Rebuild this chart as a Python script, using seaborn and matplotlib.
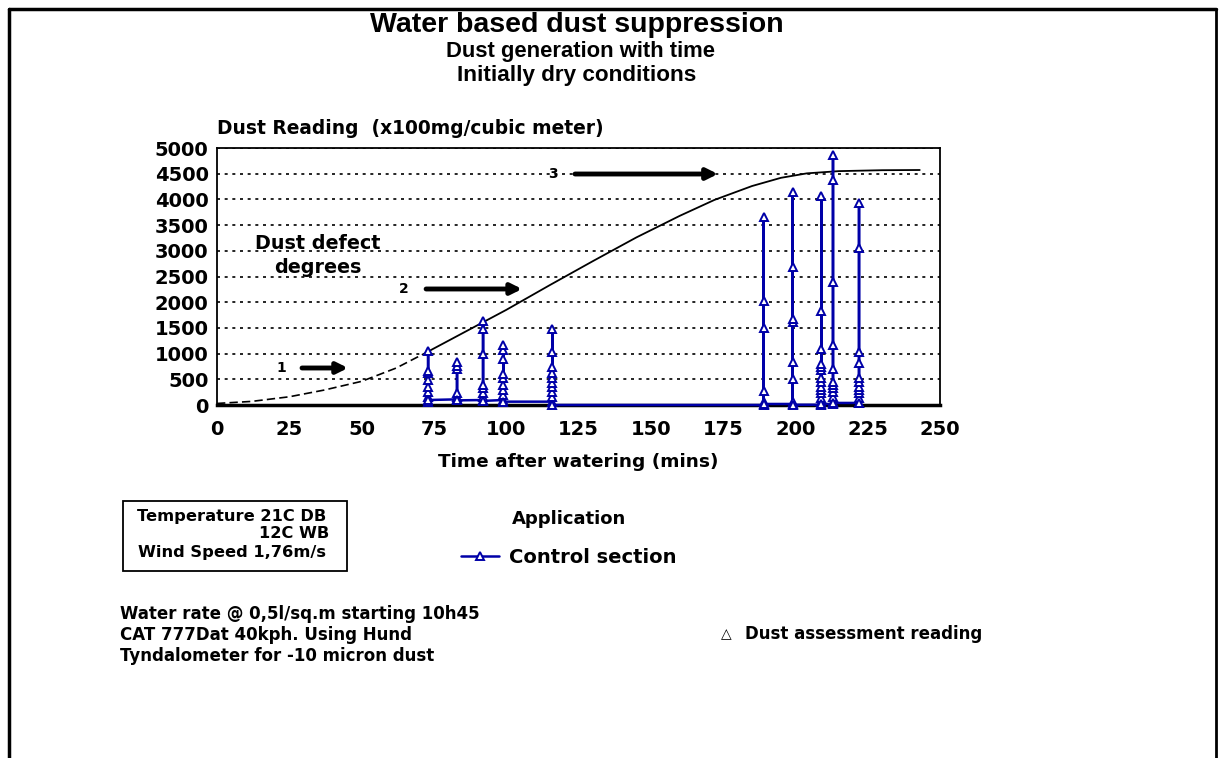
import matplotlib
matplotlib.use("Agg")
import matplotlib.pyplot as plt
from matplotlib.lines import Line2D
from matplotlib.patches import Rectangle
import seaborn as sns
import pandas as pd

# Dust readings (x100 mg/m^3) taken at each measuring time, in reading order
reading_times = [73, 83, 92, 99, 116, 189, 199, 209, 213, 222]
readings_073 = [65, 161, 258, 342, 484, 613, 664, 1050, 97]
readings_083 = [110, 161, 226, 710, 761, 839, 90]
readings_092 = [97, 161, 226, 322, 387, 1000, 1484, 1640, 80]
readings_099 = [97, 193, 290, 387, 516, 600, 903, 1064, 1161, 65]
readings_116 = [65, 161, 258, 342, 419, 516, 613, 742, 1032, 1470, 0]
readings_189 = [0, 65, 277, 1496, 2019, 3657, 20]
readings_199 = [20, 65, 497, 838, 1612, 1677, 2690, 4147, 5]
readings_209 = [5, 65, 129, 226, 290, 355, 452, 535, 677, 742, 793, 1096, 1838, 4063, 20]
readings_213 = [20, 65, 161, 258, 322, 387, 452, 710, 1161, 2387, 4373, 4857, 40]
readings_222 = [40, 129, 226, 290, 355, 452, 535, 819, 1026, 3051, 3922, 32]

# Dust defect development curve
curve_minutes = [0, 12, 25, 37, 50, 62, 73, 85, 100, 115, 130, 145, 160, 172, 185, 195, 204, 215, 230, 243]
curve_values = [30, 70, 160, 290, 460, 720, 1040, 1400, 1850, 2330, 2800, 3260, 3680, 3990, 4260, 4420, 4507, 4550, 4568, 4572]
dry_limit = 73  # dashed part of the curve ends here

# Degree markers: label, y level, arrow start and end (mins)
degree_labels = ["1", "2", "3"]
degree_levels = [720, 2257, 4494]
degree_label_x = [22.1, 64.7, 116.2]
degree_arrow_from = [29.4, 72.3, 123.8]
degree_arrow_to = [45.3, 105.5, 173.2]

x_ticks = list(range(0, 251, 25))
y_ticks = list(range(0, 5001, 500))

W, H = 1219, 758


def px(x, y):
    return x / W, 1 - y / H


sns.set_style("white")
plt.rcParams["font.family"] = ["DejaVu Sans"]
plt.rcParams["font.weight"] = "bold"
plt.rcParams["text.color"] = "black"
plt.rcParams["axes.labelcolor"] = "black"

all_series = [readings_073, readings_083, readings_092, readings_099, readings_116,
              readings_189, readings_199, readings_209, readings_213, readings_222]
rows = []
for t, vals in zip(reading_times, all_series):
    for v in vals:
        rows.append({"minutes": t, "reading": v})
df = pd.DataFrame(rows)

curve = pd.DataFrame({"minutes": curve_minutes, "value": curve_values})
dry = curve[curve.minutes <= dry_limit]
wet = curve[curve.minutes >= dry_limit]

fig = plt.figure(figsize=(W / 100, H / 100), dpi=100)
ax = fig.add_axes([217 / W, 1 - 405 / H, (940 - 217) / W, (405 - 148) / H])

blue = "#0000A8"
sns.lineplot(data=dry, x="minutes", y="value", ax=ax, color="black", lw=1.2,
             linestyle=(0, (5, 2.5)), sort=False, estimator=None)
sns.lineplot(data=wet, x="minutes", y="value", ax=ax, color="black", lw=1.3,
             sort=False, estimator=None)
sns.lineplot(data=df, x="minutes", y="reading", ax=ax, sort=False, estimator=None,
             color=blue, lw=1.8, marker="^", markersize=6.3, markerfacecolor="white",
             markeredgecolor=blue, markeredgewidth=1.4, clip_on=False,
             label="Control section", zorder=4)

ax.set_xlim(0, 250)
ax.set_ylim(0, 5000)
ax.set_xticks(x_ticks)
ax.set_yticks(y_ticks)
ax.tick_params(axis="x", direction="in", length=6, width=1.5, pad=11, labelsize=14, colors="black")
ax.tick_params(axis="y", direction="out", length=4, width=1.2, pad=2, labelsize=14, colors="black")
for lab in ax.get_xticklabels() + ax.get_yticklabels():
    lab.set_fontweight("bold")
ax.yaxis.grid(True, color="black", lw=1.2, linestyle=(0, (1.8, 2.8)))
ax.xaxis.grid(False)
for side in ["top", "right", "left"]:
    ax.spines[side].set_color("black")
    ax.spines[side].set_linewidth(1.3)
ax.spines["bottom"].set_color("black")
ax.spines["bottom"].set_linewidth(2.5)
ax.set_xlabel("Time after watering (mins)", fontsize=13.3, fontweight="bold", labelpad=10)
ax.set_ylabel("")

# Degree arrows
for lab, lvl, lx, a0, a1 in zip(degree_labels, degree_levels, degree_label_x,
                                degree_arrow_from, degree_arrow_to):
    ax.text(lx, lvl, lab, fontsize=10, fontweight="bold", ha="center", va="center")
    ax.annotate("", xy=(a1, lvl), xytext=(a0, lvl),
                arrowprops=dict(arrowstyle="-|>", lw=3.5, color="black", mutation_scale=16,
                                shrinkA=0, shrinkB=0))

ax.text(35, 2910, "Dust defect\ndegrees", fontsize=13.8, fontweight="bold",
        ha="center", va="center", linespacing=1.35)

leg = ax.legend(loc="upper left", bbox_to_anchor=px(443, 493), bbox_transform=fig.transFigure,
                frameon=False, title="Application", fontsize=14, title_fontsize=13,
                handlelength=2.0, handletextpad=0.5, labelspacing=0.4)
leg.get_title().set_fontweight("bold")
for t in leg.get_texts():
    t.set_fontweight("bold")
leg._legend_box.sep = 14

# Titles
fig.text(*px(577, 25), "Water based dust suppression", fontsize=20.5, fontweight="bold",
         ha="center", va="center", family="Liberation Sans")
fig.text(*px(581, 51), "Dust generation with time", fontsize=15.8, fontweight="bold",
         ha="center", va="center", family="Liberation Sans")
fig.text(*px(577, 75), "Initially dry conditions", fontsize=16.2, fontweight="bold",
         ha="center", va="center", family="Liberation Sans")
fig.text(*px(217, 129), "Dust Reading  (x100mg/cubic meter)", fontsize=13.4,
         fontweight="bold", ha="left", va="center")

# Conditions box
fig.add_artist(Rectangle(px(123, 571), 224 / W, 70 / H, transform=fig.transFigure,
                         facecolor="none", edgecolor="black", lw=1.3))
fig.text(*px(137, 517), "Temperature 21C DB", fontsize=11.7, fontweight="bold", ha="left", va="center")
fig.text(*px(329, 533), "12C WB", fontsize=11.7, fontweight="bold", ha="right", va="center")
fig.text(*px(138, 552), "Wind Speed 1,76m/s", fontsize=11.7, fontweight="bold", ha="left", va="center")

fig.text(*px(120, 605), "Water rate @ 0,5l/sq.m starting 10h45\nCAT 777Dat 40kph. Using Hund\n"
         "Tyndalometer for -10 micron dust", fontsize=12, fontweight="bold",
         ha="left", va="top", linespacing=1.2)
fig.text(*px(726, 634), "\u25b3", fontsize=10, fontweight="normal", ha="center", va="center")
fig.text(*px(745, 634), "Dust assessment reading", fontsize=12, fontweight="bold",
         ha="left", va="center")

# Page frame
fig.add_artist(Line2D([9 / W, 1216 / W], [1 - 9 / H, 1 - 9 / H], transform=fig.transFigure,
                      color="black", lw=2.5))
fig.add_artist(Line2D([9 / W, 9 / W], [0, 1 - 9 / H], transform=fig.transFigure,
                      color="black", lw=2.5))
fig.add_artist(Line2D([1216 / W, 1216 / W], [0, 1 - 9 / H], transform=fig.transFigure,
                      color="black", lw=2.0))

fig.savefig("out.png", dpi=100, facecolor="white")
